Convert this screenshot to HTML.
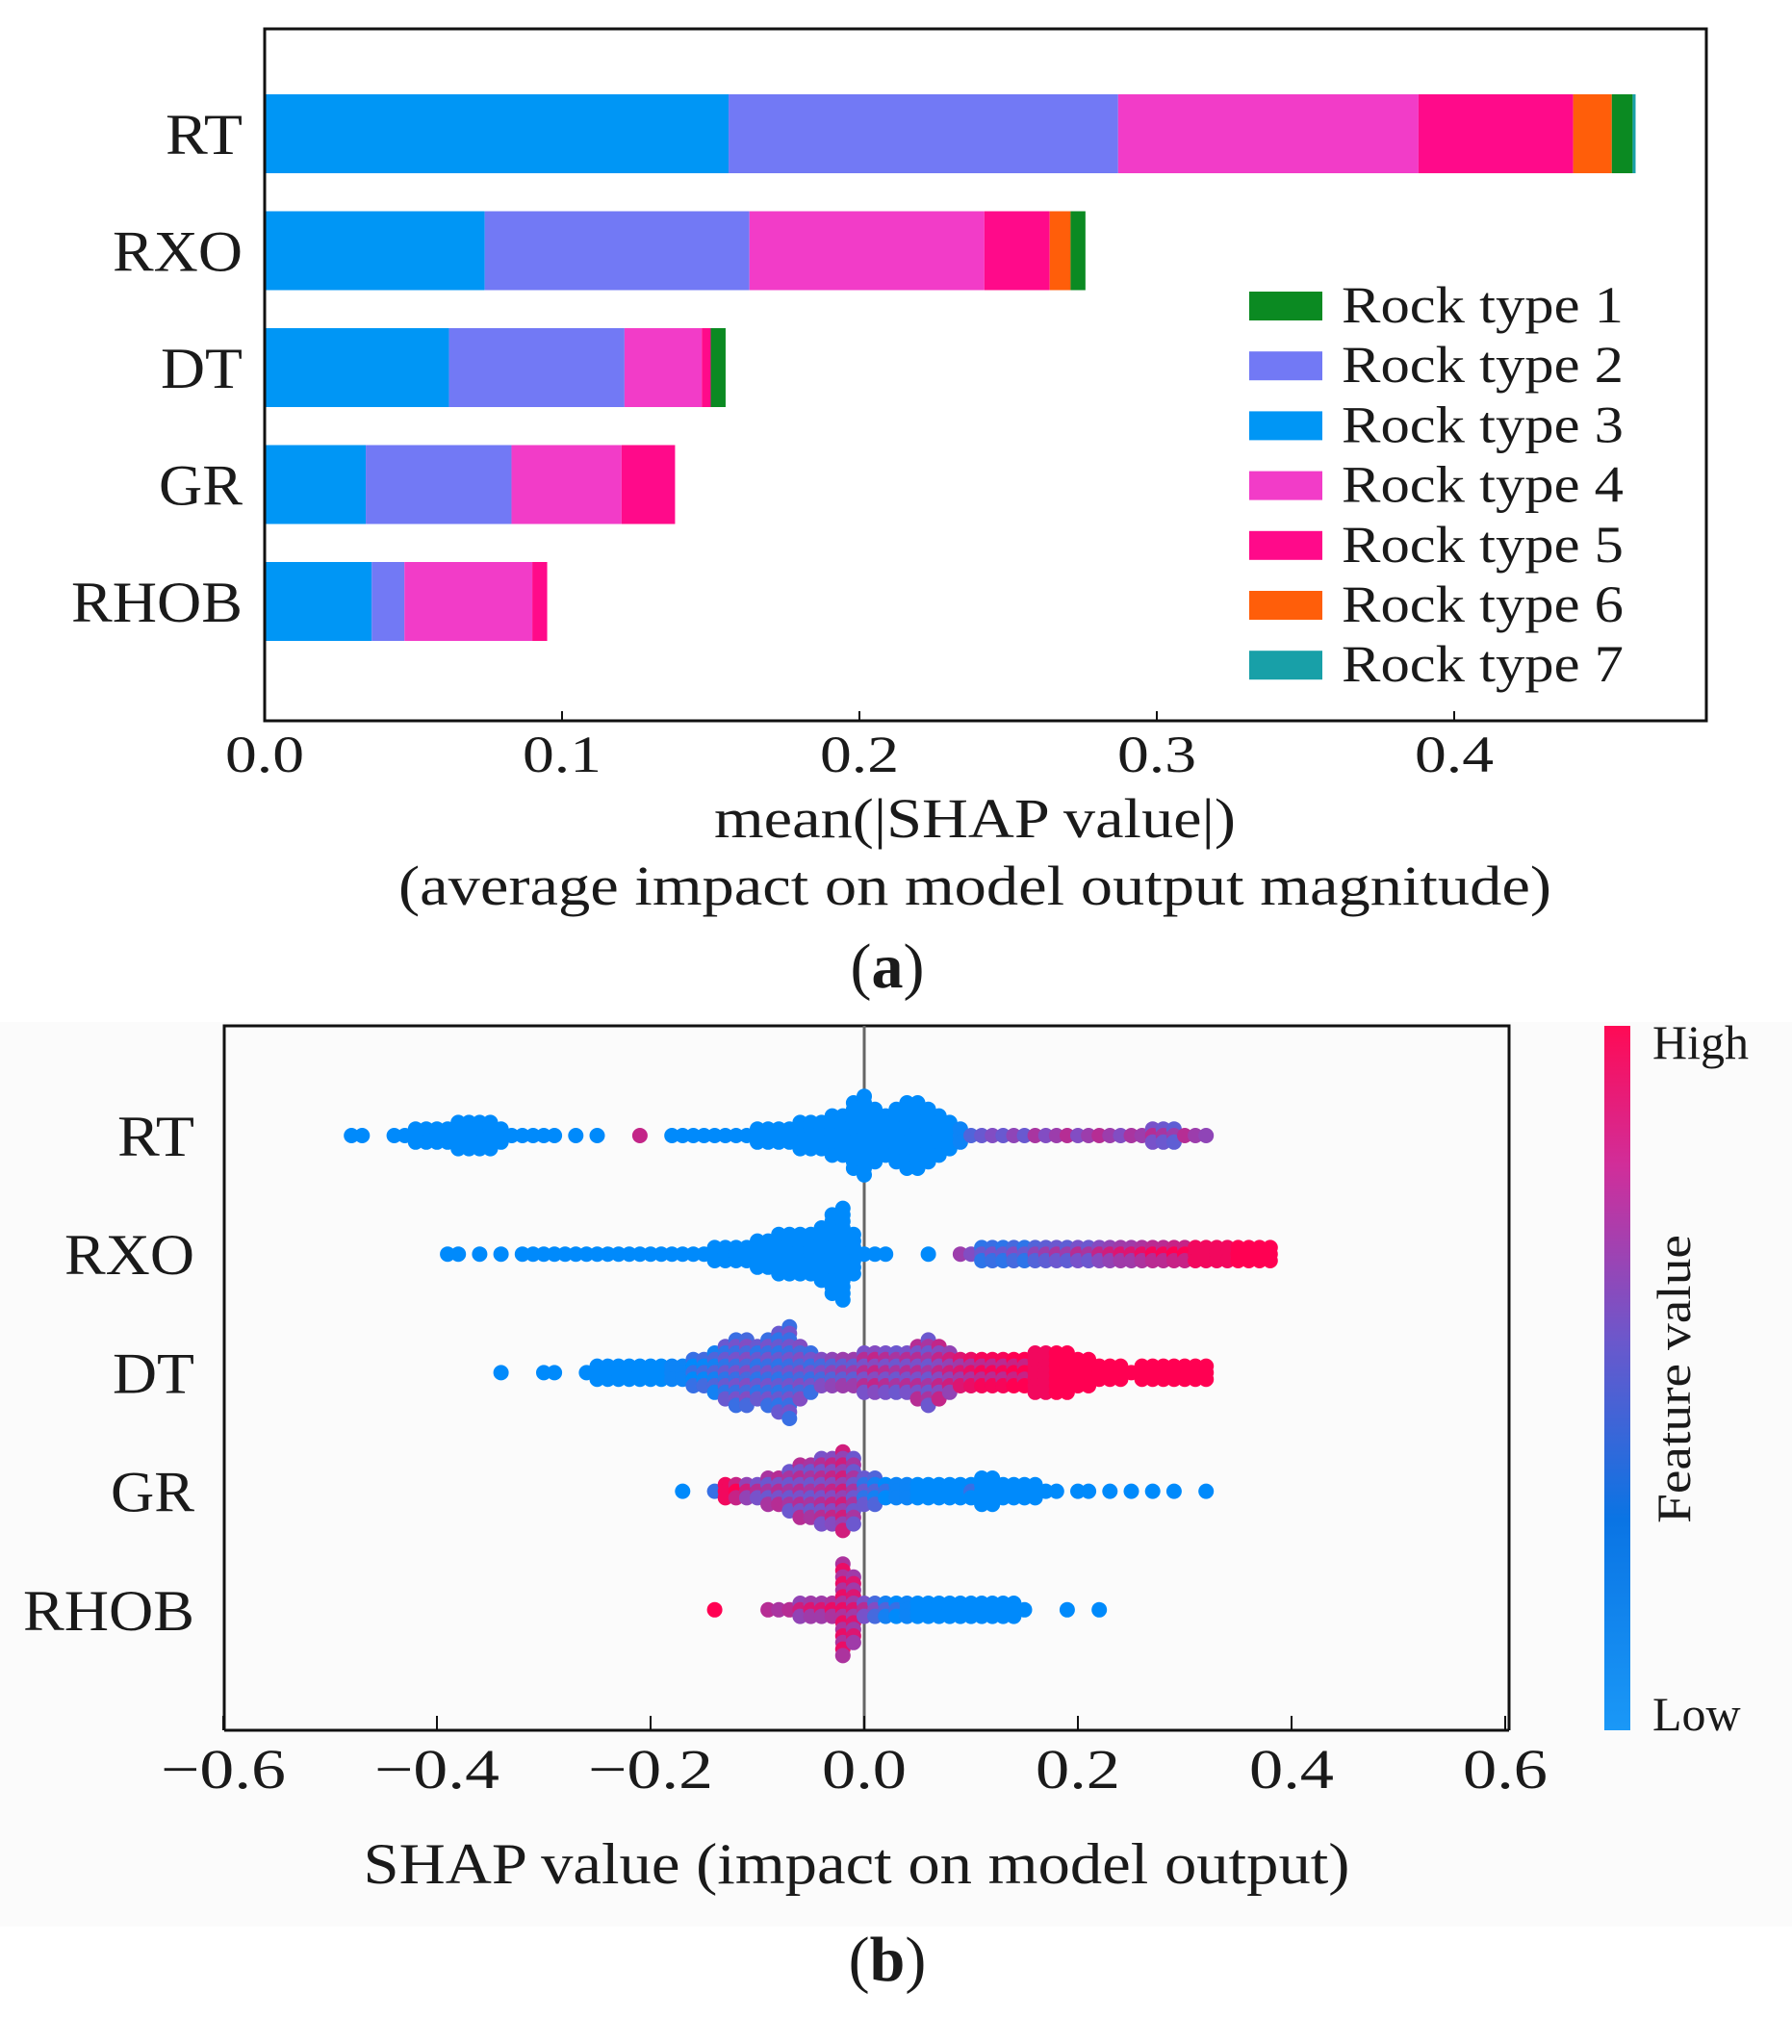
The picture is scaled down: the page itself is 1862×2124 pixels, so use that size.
<!DOCTYPE html>
<html><head><meta charset="utf-8"><style>
html,body{margin:0;padding:0;background:#fff}
svg{display:block}
text{font-family:"Liberation Serif",serif;fill:#1a1a1a}
</style></head><body>
<svg id="fig" width="1862" height="2124" viewBox="0 0 1862 2124" xmlns="http://www.w3.org/2000/svg">
<rect x="0" y="1062" width="1862" height="940" fill="#fbfbfb"/>
<g id="pa"></g>
<g id="pb"></g>
<defs><linearGradient id="cb" x1="0" y1="1" x2="0" y2="0">
<stop offset="0" stop-color="#1a98f7"/><stop offset="0.3" stop-color="#0a74e4"/><stop offset="0.55" stop-color="#6a58cc"/><stop offset="0.8" stop-color="#d02e9a"/><stop offset="1" stop-color="#ff0a55"/></linearGradient></defs>
</svg>
<script>
// ---------- Chart A data ----------
const featuresA = ["RT","RXO","DT","GR","RHOB"];
const stackOrder = ["Rock type 3","Rock type 2","Rock type 4","Rock type 5","Rock type 6","Rock type 1","Rock type 7"];
const legendOrder = ["Rock type 1","Rock type 2","Rock type 3","Rock type 4","Rock type 5","Rock type 6","Rock type 7"];
const typeColors = {"Rock type 1":"#0b8a22","Rock type 2":"#7279f5","Rock type 3":"#0096f5","Rock type 4":"#f23cc8","Rock type 5":"#ff0a8a","Rock type 6":"#ff5e0a","Rock type 7":"#18a0a8"};
const valRT   = [0.156,0.131,0.101,0.052,0.013,0.007,0.001];
const valRXO  = [0.074,0.089,0.079,0.022,0.007,0.005,0.000];
const valDT   = [0.062,0.059,0.026,0.003,0.000,0.005,0.000];
const valGR   = [0.034,0.049,0.037,0.018,0.000,0.000,0.000];
const valRHOB = [0.036,0.011,0.043,0.005,0.000,0.000,0.000];
const ticksA = [0.0,0.1,0.2,0.3,0.4];

// ---------- Chart B data: [shap value, half-stack count, feature value 0..1] ----------
const featuresB = ["RT","RXO","DT","GR","RHOB"];
const ptsRT = [[-0.48,1,0],[-0.47,1,0],[-0.44,1,0],[-0.43,1,0],[-0.42,2,0],[-0.41,2,0],[-0.40,2,0],[-0.39,2,0],[-0.38,3,0],[-0.37,3,0],[-0.36,3,0],[-0.35,3,0],[-0.34,2,0],[-0.33,1,0],[-0.32,1,0],[-0.31,1,0],[-0.30,1,0],[-0.29,1,0],[-0.27,1,0],[-0.25,1,0],[-0.21,1,0.65],[-0.18,1,0],[-0.17,1,0],[-0.16,1,0],[-0.15,1,0],[-0.14,1,0],[-0.13,1,0],[-0.12,1,0],[-0.11,1,0],[-0.10,2,0],[-0.09,2,0],[-0.08,2,0],[-0.07,2,0],[-0.06,3,0],[-0.05,3,0],[-0.04,3,0],[-0.03,4,0],[-0.02,4,0],[-0.01,6,0],[0.00,7,0],[0.01,5,0],[0.02,4,0],[0.03,5,0],[0.04,6,0],[0.05,6,0],[0.06,5,0],[0.07,4,0],[0.08,3,0],[0.09,2,0.05],[0.10,1,0.2],[0.11,1,0.3],[0.12,1,0.4],[0.13,1,0.3],[0.14,1,0.45],[0.15,1,0.3],[0.16,1,0.55],[0.17,1,0.4],[0.18,1,0.5],[0.19,1,0.6],[0.20,1,0.4],[0.21,1,0.5],[0.22,1,0.6],[0.23,1,0.5],[0.24,1,0.4],[0.25,1,0.55],[0.26,1,0.5],[0.27,2,0.6],[0.28,2,0.55],[0.29,2,0.5],[0.30,1,0.6],[0.31,1,0.5],[0.32,1,0.45]];
const ptsRXO = [[-0.39,1,0],[-0.38,1,0],[-0.36,1,0],[-0.34,1,0],[-0.32,1,0],[-0.31,1,0],[-0.30,1,0],[-0.29,1,0],[-0.28,1,0],[-0.27,1,0],[-0.26,1,0],[-0.25,1,0],[-0.24,1,0],[-0.23,1,0],[-0.22,1,0],[-0.21,1,0],[-0.20,1,0],[-0.19,1,0],[-0.18,1,0],[-0.17,1,0],[-0.16,1,0],[-0.15,1,0],[-0.14,2,0],[-0.13,2,0],[-0.12,2,0],[-0.11,2,0],[-0.10,3,0],[-0.09,3,0],[-0.08,4,0],[-0.07,4,0],[-0.06,4,0],[-0.05,4,0],[-0.04,5,0],[-0.03,7,0],[-0.02,8,0],[-0.01,4,0],[0.00,1,0],[0.01,1,0],[0.02,1,0],[0.06,1,0],[0.09,1,0.5],[0.10,1,0.4],[0.11,2,0.3],[0.12,2,0.35],[0.13,2,0.3],[0.14,2,0.4],[0.15,2,0.3],[0.16,2,0.45],[0.17,2,0.5],[0.18,2,0.55],[0.19,2,0.5],[0.20,2,0.6],[0.21,2,0.55],[0.22,2,0.65],[0.23,2,0.7],[0.24,2,0.75],[0.25,2,0.75],[0.26,2,0.8],[0.27,2,0.85],[0.28,2,0.85],[0.29,2,0.9],[0.30,2,0.9],[0.31,2,0.95],[0.32,2,0.95],[0.33,2,0.95],[0.34,2,0.95],[0.35,2,1],[0.36,2,1],[0.37,2,1],[0.38,2,1]];
const ptsDT = [[-0.34,1,0],[-0.30,1,0],[-0.29,1,0],[-0.26,1,0],[-0.25,2,0],[-0.24,2,0],[-0.23,2,0],[-0.22,2,0],[-0.21,2,0],[-0.20,2,0],[-0.19,2,0],[-0.18,2,0.05],[-0.17,2,0.05],[-0.16,3,0.1],[-0.15,3,0.15],[-0.14,4,0.2],[-0.13,5,0.3],[-0.12,6,0.35],[-0.11,6,0.4],[-0.10,5,0.3],[-0.09,6,0.35],[-0.08,7,0.3],[-0.07,8,0.35],[-0.06,5,0.4],[-0.05,4,0.35],[-0.04,3,0.4],[-0.03,3,0.45],[-0.02,3,0.5],[-0.01,3,0.5],[0.00,4,0.6],[0.01,4,0.65],[0.02,4,0.6],[0.03,4,0.55],[0.04,4,0.6],[0.05,5,0.6],[0.06,6,0.55],[0.07,5,0.65],[0.08,4,0.7],[0.09,3,0.75],[0.10,3,0.8],[0.11,3,0.85],[0.12,3,0.85],[0.13,3,0.85],[0.14,3,0.9],[0.15,3,0.9],[0.16,4,0.95],[0.17,4,0.95],[0.18,4,1],[0.19,4,1],[0.20,3,1],[0.21,3,1],[0.22,2,1],[0.23,2,1],[0.24,2,1],[0.25,1,1],[0.26,2,1],[0.27,2,1],[0.28,2,1],[0.29,2,1],[0.30,2,1],[0.31,2,1],[0.32,2,1]];
const ptsGR = [[-0.17,1,0],[-0.14,1,0.1],[-0.13,2,0.95],[-0.12,2,0.9],[-0.11,2,0.7],[-0.10,2,0.6],[-0.09,3,0.55],[-0.08,3,0.6],[-0.07,4,0.55],[-0.06,5,0.6],[-0.05,5,0.55],[-0.04,6,0.6],[-0.03,6,0.65],[-0.02,7,0.7],[-0.01,6,0.55],[0.00,3,0.3],[0.01,3,0.2],[0.02,2,0.1],[0.03,2,0.05],[0.04,2,0.05],[0.05,2,0],[0.06,2,0],[0.07,2,0],[0.08,2,0],[0.09,2,0],[0.10,2,0.1],[0.11,3,0],[0.12,3,0],[0.13,2,0],[0.14,2,0],[0.15,2,0],[0.16,2,0],[0.17,1,0],[0.18,1,0],[0.20,1,0],[0.21,1,0],[0.23,1,0],[0.25,1,0],[0.27,1,0],[0.29,1,0],[0.32,1,0]];
const ptsRHOB = [[-0.14,1,0.9],[-0.09,1,0.6],[-0.08,1,0.55],[-0.07,1,0.6],[-0.06,2,0.7],[-0.05,2,0.75],[-0.04,2,0.75],[-0.03,2,0.8],[-0.02,8,0.8],[-0.01,6,0.75],[0.00,2,0.6],[0.01,2,0.4],[0.02,2,0.2],[0.03,2,0.1],[0.04,2,0.05],[0.05,2,0],[0.06,2,0],[0.07,2,0],[0.08,2,0],[0.09,2,0],[0.10,2,0],[0.11,2,0],[0.12,2,0],[0.13,2,0],[0.14,2,0],[0.15,1,0],[0.19,1,0],[0.22,1,0]];
const ticksB = [-0.6,-0.4,-0.2,0.0,0.2,0.4,0.6];

const NS="http://www.w3.org/2000/svg";
function mk(parent,tag,attrs,txt){const e=document.createElementNS(NS,tag);for(const k in attrs)e.setAttribute(k,attrs[k]);if(txt!==undefined)e.textContent=txt;parent.appendChild(e);return e;}
const TL={lengthAdjust:'spacingAndGlyphs'};
function tl(o,len){o.textLength=len;o.lengthAdjust='spacingAndGlyphs';return o;}
const labW={RT:80,RXO:135,DT:85,GR:87,RHOB:178};

// ---------- Chart A ----------
const pa=document.getElementById('pa');
const A={l:275,t:30,r:1773,b:749};
const xA=v=>A.l+v/0.1*309;
const rowYA=i=>139+i*121.5;
const valsA=[valRT,valRXO,valDT,valGR,valRHOB];
featuresA.forEach((f,i)=>{
  let acc=0;
  valsA[i].forEach((v,j)=>{
    if(v<=0) return;
    const r=mk(pa,'rect',{x:xA(acc),y:rowYA(i)-41,width:xA(acc+v)-xA(acc),height:82,fill:typeColors[stackOrder[j]]});
    
    
    acc+=v;
  });
  const t=mk(pa,'text',tl({x:252,y:rowYA(i)+21,'text-anchor':'end','font-size':60},labW[f]),f);
  
  
});
const fa=mk(pa,'path',{d:`M${A.l},${A.t}H${A.r}V${A.b}H${A.l}Z`,fill:'none',stroke:'#111','stroke-width':3});


ticksA.forEach(v=>{
  mk(pa,'line',{x1:xA(v),x2:xA(v),y1:A.b,y2:A.b-10,stroke:'#111','stroke-width':2});
  const t=mk(pa,'text',tl({x:xA(v),y:802,'text-anchor':'middle','font-size':54},82),v.toFixed(1));
  
  
});
legendOrder.forEach((n,i)=>{
  const y=318+i*62.2;
  const r=mk(pa,'rect',{x:1298,y:y-15,width:76,height:30,fill:typeColors[n]});
  
  
  const t=mk(pa,'text',tl({x:1394,y:y+17,'font-size':54},293),n);
  
  
});
let t1=mk(pa,'text',tl({x:1013,y:870,'text-anchor':'middle','font-size':58},542),'mean(|SHAP value|)');


let t2=mk(pa,'text',tl({x:1013,y:940,'text-anchor':'middle','font-size':58},1198),'(average impact on model output magnitude)');


let t3=mk(pa,'text',{x:922,y:1026,'text-anchor':'middle','font-size':66},'');


t3.innerHTML='(<tspan font-weight="bold">a</tspan>)';

// ---------- Chart B ----------
const pb=document.getElementById('pb');
const B={l:233,t:1066,r:1568,b:1798};
const xB=v=>898+v/0.1*111;
const rowYB=i=>1180+i*123.2;
function col(c){
  const stops=[[0,[0,138,251]],[0.5,[125,80,200]],[1,[255,0,82]]];
  let a,b;
  if(c<=0.5){a=stops[0];b=stops[1];}else{a=stops[1];b=stops[2];}
  const t=(c-a[0])/(b[0]-a[0]);
  return 'rgb('+a[1].map((v,k)=>Math.round(v+(b[1][k]-v)*t)).join(',')+')';
}
const ptsB=[ptsRT,ptsRXO,ptsDT,ptsGR,ptsRHOB];
let fb=mk(pb,'path',{d:`M${B.l},${B.b}V${B.t}H${B.r}V${B.b}`,fill:'none',stroke:'#111','stroke-width':3});


let zl=mk(pb,'line',{x1:xB(0),x2:xB(0),y1:B.t,y2:B.b,stroke:'#666','stroke-width':3});


featuresB.forEach((f,i)=>{
  const g=mk(pb,'g',{});
  
  
  ptsB[i].forEach(p=>{
    const n=p[1];
    for(let k=-(n-1);k<=n-1;k++){
      let c=p[2];
      if(c>0.05&&c<0.95) c=Math.min(1,Math.max(0,c+((k%2===0)?0.12:-0.12)));
      const d=mk(g,'circle',{cx:xB(p[0]),cy:rowYB(i)+k*6.8,r:8,fill:col(c)});
      
      
    }
  });
  const t=mk(pb,'text',tl({x:202,y:rowYB(i)+21,'text-anchor':'end','font-size':60},labW[f]),f);
  
  
});
mk(pb,'line',{x1:B.l,x2:B.r,y1:B.b,y2:B.b,stroke:'#111','stroke-width':3});
ticksB.forEach(v=>{
  mk(pb,'line',{x1:xB(v),x2:xB(v),y1:B.b,y2:B.b-15,stroke:'#111','stroke-width':2});
  const t=mk(pb,'text',tl({x:xB(v),y:1858,'text-anchor':'middle','font-size':58},v<0?130:88),(v<0?'\u2212':'')+Math.abs(v).toFixed(1));
  
  
});
let cbr=mk(pb,'rect',{x:1667,y:1066,width:27,height:732,fill:'url(#cb)'});


let hi=mk(pb,'text',{x:1717,y:1100,'font-size':50},'High');


let lo=mk(pb,'text',{x:1717,y:1798,'font-size':50},'Low');


let fv=mk(pb,'text',tl({x:0,y:0,'text-anchor':'middle','font-size':50,transform:'translate(1756,1433) rotate(-90)'},300),'Feature value');


let xt=mk(pb,'text',tl({x:890,y:1957,'text-anchor':'middle','font-size':60},1025),'SHAP value (impact on model output)');


let pl=mk(pb,'text',{x:922,y:2058,'text-anchor':'middle','font-size':66},'');


pl.innerHTML='(<tspan font-weight="bold">b</tspan>)';
</script>
</body></html>
